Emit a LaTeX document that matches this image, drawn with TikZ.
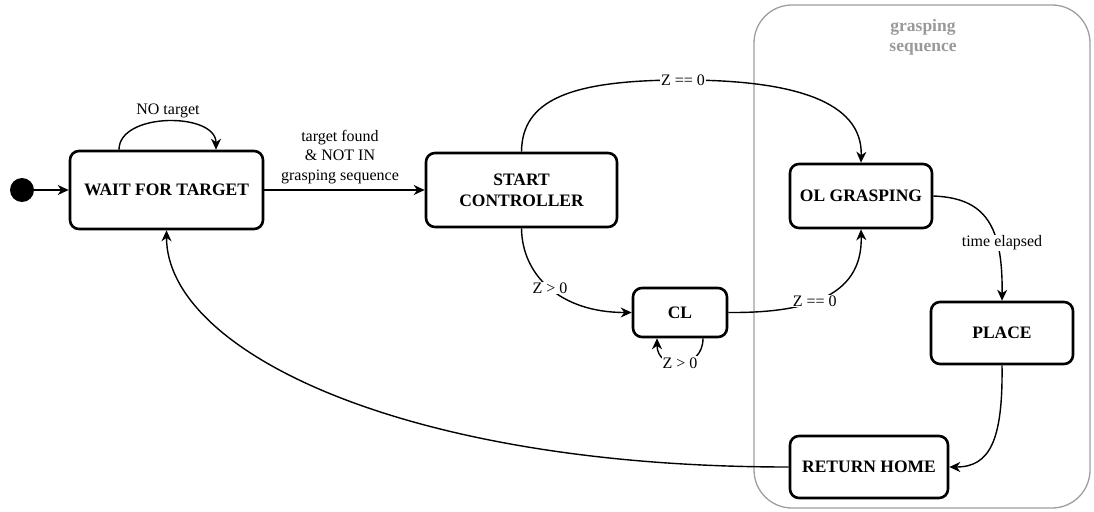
\documentclass[tikz,border=0pt]{standalone}
\usepackage{fontspec}
\setmainfont{Liberation Serif}
\usetikzlibrary{arrows.meta,calc}

\begin{document}
\begin{tikzpicture}[
  x=1pt, y=-1pt,
  state/.style={draw=black, line width=2.6pt, rounded corners=9pt, fill=white,
                font=\fontsize{17.5}{21}\selectfont\bfseries, align=center,
                inner sep=0pt},
  group/.style={draw=black!38, line width=1.3pt, rounded corners=38pt},
  grouplabel/.style={text=black!40, font=\fontsize{17.5}{20}\selectfont\bfseries, align=center},
  trans/.style={draw=black, line width=1.4pt,
                -{Stealth[length=11pt,width=10pt,inset=3.5pt]}},
  cond/.style={font=\fontsize{16}{19.5}\selectfont, align=center, inner sep=1pt},
  condon/.style={cond, fill=white},
]
\useasboundingbox (0,0) rectangle (1094,511);

% grasping sequence region
\draw[group] (754,5) rectangle (1090,508);
\node[grouplabel] (seqlabel) at (923,37) {grasping\\sequence};

% states
\fill (22,190) circle (12pt);
\coordinate (init) at (34,190);
\node[state, minimum width=193pt, minimum height=78pt] (wait) at (166.5,190) {WAIT FOR TARGET};
\node[state, minimum width=191pt, minimum height=74pt] (start) at (521.5,190) {START\\CONTROLLER};
\node[state, minimum width=94pt, minimum height=49pt] (cl) at (680,312.5) {CL};
\node[state, minimum width=142pt, minimum height=64pt] (ol) at (861,196) {OL GRASPING};
\node[state, minimum width=142pt, minimum height=62pt] (place) at (1002,333) {PLACE};
\node[state, minimum width=158pt, minimum height=62pt] (home) at (869,467) {RETURN HOME};

% transitions
\draw[trans] (init) -- (wait.west);

\draw[trans] ([xshift=-47.5pt]wait.north) .. controls (119,112) and (216,112) .. ([xshift=49.5pt]wait.north);
\node[cond] (notarget) at (168,111) {NO target};

\draw[trans] (wait.east) -- (start.west);
\node[cond] (found) at (340,157) {target found\\\& NOT IN\\grasping sequence};

\draw[trans] (start.north) .. controls (522,100) and (570,80) .. (683,80)
  .. controls (790,80) and (863,100) .. (ol.north);
\node[condon] (zeq1) at (683,80) {Z == 0};

\draw[trans] (start.south) .. controls (522,275) and (560,312.5) .. (cl.west)
  node[condon, pos=0.5] (zgt1) {Z > 0};

\draw[trans] ([xshift=23pt]cl.south) .. controls (703,371) and (657,371) .. ([xshift=-23pt]cl.south)
  node[condon, pos=0.5] (zgt2) {Z > 0};

\draw[trans] (cl.east) .. controls (800,313) and (863,300) .. (ol.south)
  node[condon, pos=0.45] (zeq2) {Z == 0};

\draw[trans] (ol.east) .. controls (985,198) and (1003,225) .. (place.north);
\node[condon] (elapsed) at (1002,243) {time elapsed};

\draw[trans] (place.south) .. controls (1003,440) and (990,467) .. (home.east);

\draw[trans] (home.west) .. controls (400,467) and (wait.south |- 0,350) .. (wait.south);
\end{tikzpicture}
\end{document}
